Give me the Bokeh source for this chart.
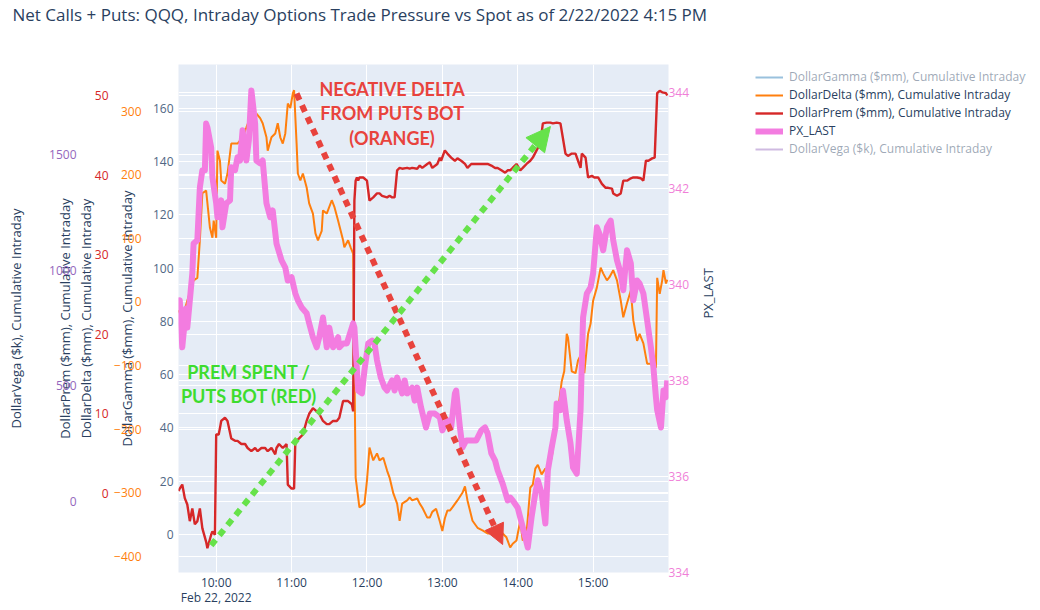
import math
import pandas as pd
from bokeh.plotting import figure
from bokeh.layouts import row, column
from bokeh.models import (Range1d, LinearAxis, Grid, SingleIntervalTicker, FixedTicker,
                          DatetimeTickFormatter, Legend, LegendItem, Arrow, NormalHead,
                          CustomJSTickFormatter, ColumnDataSource)
from bokeh.core.properties import value
from bokeh.embed import file_html
from bokeh.resources import INLINE

# ---------------- data ----------------
title_text = "Net Calls + Puts: QQQ, Intraday Options Trade Pressure vs Spot as of 2/22/2022 4:15 PM"
session_start = "2022-02-22 09:30"
hour_ticks = ["10:00", "11:00", "12:00", "13:00", "14:00", "15:00"]

series_names = ["DollarGamma ($mm), Cumulative Intraday",
                "DollarDelta ($mm), Cumulative Intraday",
                "DollarPrem ($mm), Cumulative Intraday",
                "PX_LAST",
                "DollarVega ($k), Cumulative Intraday"]

# minutes after 09:30
px_minutes = [0, 1, 3, 6, 7, 11, 12, 15, 17, 19, 21, 22, 23, 26, 27, 30, 31, 34, 35, 38, 41, 42, 45, 47, 49,
              51, 54, 56, 58, 61, 62, 65, 67, 70, 73, 75, 78, 82, 85, 87, 90, 93, 95, 98, 102, 104, 107, 110,
              112, 115, 118, 120, 123, 127, 128, 131, 134, 139, 140, 143, 146, 148, 151, 154, 156, 158, 161,
              164, 166, 170, 172, 174, 178, 180, 182, 186, 188, 190, 193, 197, 200, 204, 208, 210, 214, 217,
              220, 221, 224, 226, 229, 233, 237, 241, 244, 246, 249, 252, 254, 258, 262, 264, 266, 270, 274,
              278, 281, 284, 286, 289, 292, 294, 297, 300, 301, 304, 306, 309, 312, 314, 317, 320, 322, 325,
              328, 330, 333, 335, 338, 341, 344, 346, 349, 352, 354, 357, 360, 362, 365, 367, 370, 373, 376,
              378, 380, 381, 384, 386, 388, 389]
px_last = [339.6, 339.67, 338.69, 339.5, 339.1, 340.23, 340.85, 340.92, 342.02, 342.38, 342.38, 343.35, 343.27,
           342.85, 342.23, 341.69, 341.40, 341.75, 341.19, 341.69, 341.75, 342.44, 342.38, 342.65, 342.58,
           343.21, 342.58, 343.0, 344.04, 343.35, 342.58, 342.52, 342.58, 341.69, 341.40, 341.54, 340.85,
           340.5, 340.35, 340.08, 340.15, 339.81, 339.67, 339.52, 339.40, 339.19, 338.90, 338.69, 338.90,
           339.31, 338.69, 339.10, 338.69, 338.90, 338.69, 338.77, 338.77, 339.19, 339.10, 337.79, 337.73,
           338.21, 338.77, 338.83, 338.77, 338.42, 338.06, 337.85, 337.79, 338.0, 337.79, 338.06, 337.73,
           338.0, 337.73, 337.85, 337.58, 337.85, 337.44, 337.02, 337.31, 337.31, 337.23, 336.96, 337.17,
           337.02, 337.73, 337.79, 337.02, 336.60, 336.75, 336.75, 336.75, 336.96, 337.02, 336.90, 336.48,
           336.33, 336.13, 335.85, 335.5, 335.56, 335.5, 335.35, 334.94, 334.52, 335.15, 335.65, 335.92,
           335.65, 335.02, 336.13, 336.60, 337.02, 337.52, 337.38, 337.79, 337.17, 336.69, 336.19, 336.06,
           337.38, 339.31, 339.81, 339.94, 340.23, 341.19, 341.06, 340.71, 341.19, 341.33, 340.92, 340.5,
           340.23, 339.88, 340.71, 340.44, 339.67, 340.08, 340.02, 339.81, 339.25, 338.69, 338.27, 337.65,
           337.38, 337.02, 337.79, 337.65, 338.0]

delta_minutes = [0, 3, 7, 12, 15, 17, 19, 22, 25, 27, 28, 30, 31, 33, 34, 37, 39, 42, 45, 47, 51, 54, 57, 59,
                 62, 65, 67, 70, 71, 74, 77, 79, 81, 83, 85, 87, 89, 91, 92, 94, 95, 97, 99, 102, 104, 107,
                 109, 111, 114, 115, 118, 122, 124, 127, 131, 132, 135, 137, 139, 141, 144, 148, 150, 152,
                 155, 158, 160, 163, 166, 168, 171, 174, 176, 178, 182, 184, 186, 190, 192, 194, 198, 200,
                 202, 205, 208, 210, 212, 214, 216, 218, 222, 226, 228, 230, 234, 238, 242, 246, 250, 256,
                 261, 264, 266, 269, 272, 274, 277, 280, 282, 284, 286, 289, 292, 294, 297, 300, 302, 305,
                 307, 309, 310, 313, 316, 318, 321, 323, 326, 328, 330, 333, 336, 338, 341, 343, 346, 349,
                 352, 354, 357, 360, 362, 365, 367, 370, 373, 376, 378, 380, 381, 383, 385, 386, 388, 389]
dollar_delta = [-13, -26, 2, 34, 38, 97, 171, 175, 117, 101, 128, 101, 238, 222, 191, 186, 202, 249, 249, 249,
                259, 274, 290, 281, 296, 289, 281, 259, 238, 259, 265, 281, 259, 249, 265, 312, 305, 328, 333,
                249, 202, 191, 202, 180, 155, 139, 108, 97, 112, 144, 139, 160, 150, 128, 97, 86, 97, 86, 76,
                -276, -323, -317, -281, -229, -249, -238, -249, -245, -265, -276, -301, -317, -344, -317,
                -312, -307, -312, -309, -317, -323, -339, -339, -330, -325, -345, -360, -340, -328, -328,
                -323, -312, -300, -290, -312, -344, -355, -359, -364, -364, -360, -370, -386, -380, -375,
                -344, -375, -364, -292, -287, -262, -256, -271, -262, -265, -245, -202, -172, -125, -109,
                -50, -56, -109, -112, -92, -80, -112, -50, -34, 2, 23, 54, 45, 34, 39, 50, 34, 2, -24, -2,
                18, -29, -61, -50, -65, -97, -97, -103, -103, 38, 13, 34, 50, 29, 35]

prem_minutes = [0, 1, 3, 5, 7, 9, 11, 13, 15, 17, 19, 22, 23, 26, 27, 29, 30, 32, 33, 34, 37, 39, 42, 45, 47,
                50, 53, 55, 58, 61, 63, 66, 69, 71, 74, 77, 78, 80, 83, 86, 87, 90, 92, 93, 94, 96, 99, 102,
                104, 107, 110, 112, 115, 118, 120, 123, 126, 128, 131, 135, 138, 139, 140, 141, 142, 143, 144,
                147, 150, 152, 155, 158, 160, 162, 166, 168, 170, 172, 174, 176, 178, 182, 184, 186, 190, 192,
                194, 198, 200, 202, 206, 208, 209, 212, 214, 217, 220, 222, 225, 228, 230, 233, 236, 238, 241,
                244, 246, 249, 252, 254, 257, 260, 262, 264, 266, 269, 272, 274, 277, 280, 282, 285, 288, 290,
                293, 296, 298, 301, 304, 306, 308, 310, 313, 316, 318, 320, 321, 324, 326, 329, 331, 334, 337,
                340, 342, 345, 346, 349, 352, 354, 357, 360, 362, 365, 368, 370, 372, 374, 377, 379, 381, 383,
                385, 388, 389]
dollar_prem = [0.3, 0.6, 1.1, -0.6, -1.4, -3.5, -1.9, -3.9, -3.5, -1.9, -4.4, -6.1, -6.9, -5.2, -4.8, -5.2,
               7.4, 7.4, 8.2, 9.1, 9.5, 9.1, 6.9, 6.6, 6.6, 6.2, 6.2, 5.7, 5.3, 5.7, 5.3, 5.7, 5.7, 5.3, 5.7,
               4.9, 5.7, 6.2, 5.7, 6.2, 1.1, 0.6, 0.6, 6.6, 6.6, 6.9, 7.4, 9.1, 10.0, 10.7, 10.3, 10.0, 9.1,
               8.7, 8.7, 9.1, 9.1, 9.5, 11.6, 11.6, 11.2, 10.3, 36.8, 39.3, 39.7, 39.3, 39.7, 39.7, 39.3,
               36.8, 37.2, 37.7, 37.7, 37.4, 37.2, 37.4, 37.2, 37.2, 40.6, 40.9, 40.8, 40.9, 40.8, 40.9, 40.8,
               41.2, 40.9, 41.4, 41.6, 40.9, 41.4, 42.2, 41.8, 43.1, 42.7, 42.2, 41.8, 42.1, 41.8, 41.4, 40.9,
               41.4, 41.4, 41.4, 41.4, 41.4, 41.4, 41.2, 40.9, 40.9, 40.6, 40.3, 40.6, 40.6, 40.9, 41.4, 40.6,
               40.9, 41.4, 41.8, 42.2, 43.1, 44.0, 46.5, 46.6, 46.6, 46.5, 46.6, 46.5, 44.6, 42.7, 42.4, 42.7,
               42.7, 41.8, 40.9, 42.7, 42.2, 39.7, 39.9, 39.7, 39.7, 38.9, 38.4, 38.4, 38.3, 37.7, 37.4, 37.7,
               39.3, 39.3, 39.6, 39.7, 39.7, 39.6, 39.3, 41.8, 41.8, 42.1, 42.2, 50.3, 50.6, 50.4, 50.3, 50.0]

# hidden (legend-only) series
gamma_minutes = [0, 60, 120, 180, 240, 300, 389]
dollar_gamma = [2, 20, 35, 60, 55, 80, 95]
vega_minutes = [0, 60, 120, 180, 240, 300, 389]
dollar_vega = [50, 400, 600, 900, 1100, 1300, 1500]

# annotation texts
note_delta = "NEGATIVE DELTA\nFROM PUTS BOT\n(ORANGE)"
note_prem = "PREM SPENT /\nPUTS BOT (RED)"

# ---------------- helpers ----------------
base = pd.Timestamp(session_start)


def ms(minute):
    return (base + pd.Timedelta(minutes=minute)).timestamp() * 1000.0


def ms_clock(hhmm):
    return pd.Timestamp("2022-02-22 " + hhmm).timestamp() * 1000.0


TXT = "#2a3f5f"
FONT = "Open Sans"
C_GAMMA, C_DELTA, C_PREM, C_PX, C_VEGA = "#1f77b4", "#ff7f0e", "#d62728", "#f37ce0", "#9467bd"

TOTAL_W, MAIN_W, HEAD_H, TOTAL_H = 1036, 745, 34, 609
LEG_W = TOTAL_W - MAIN_W
BODY_H = TOTAL_H - HEAD_H
FRAME_L, FRAME_R, FRAME_T, FRAME_B = 178, 668, 64, 572
TOP_BORDER = FRAME_T - HEAD_H

# ---------------- title strip ----------------
head = figure(width=TOTAL_W, height=HEAD_H, output_backend="svg", toolbar_location=None,
              x_range=Range1d(0, 1), y_range=Range1d(0, 1),
              x_axis_location=None, y_axis_location=None,
              min_border_left=12, min_border_right=0, min_border_top=0, min_border_bottom=0)
head.grid.visible = False
head.outline_line_color = None
head.background_fill_color = "white"
head.border_fill_color = "white"
head.title.text = title_text
head.title.align = "left"
head.title.vertical_align = "top"
head.title.offset = 0
head.title.standoff = 4
head.title.text_font = FONT
head.title.text_font_size = "17px"
head.title.text_font_style = "normal"
head.title.text_color = TXT

# ---------------- main chart ----------------
p = figure(width=MAIN_W, height=BODY_H, x_axis_type="datetime",
           x_range=Range1d(ms_clock("09:30"), ms_clock("16:00")),
           y_range=Range1d(-14.3, 176.5),
           output_backend="svg", toolbar_location=None,
           min_border_left=FRAME_L, min_border_right=MAIN_W - FRAME_R,
           min_border_top=TOP_BORDER, min_border_bottom=TOTAL_H - FRAME_B)
p.extra_y_ranges = {"delta": Range1d(-425.3, 373.4), "prem": Range1d(-9.95, 53.9),
                    "vega": Range1d(-307, 1889), "px": Range1d(334, 344.58)}
# the chart's own (empty) title must not take vertical room
p.title.standoff = 0
p.title.text_font_size = "1px"

p.background_fill_color = "#e5ecf6"
p.border_fill_color = "white"
p.outline_line_color = None

minus_fmt = "return (tick < 0 ? '\\u2212' + Math.abs(tick) : '' + tick);"


def style_axis(ax, color, label, lab_standoff, title_standoff):
    ax.axis_label = label
    ax.axis_line_color = None
    ax.major_tick_line_color = None
    ax.minor_tick_line_color = None
    ax.major_tick_out = 0
    ax.major_tick_in = 0
    ax.minor_tick_out = 0
    ax.minor_tick_in = 0
    ax.major_label_standoff = lab_standoff
    ax.axis_label_standoff = title_standoff
    ax.major_label_text_font = FONT
    ax.major_label_text_font_size = "12px"
    ax.major_label_text_color = color
    ax.axis_label_text_font = FONT
    ax.axis_label_text_font_size = "13px"
    ax.axis_label_text_font_style = "normal"
    ax.axis_label_text_color = TXT
    ax.formatter = CustomJSTickFormatter(code=minus_fmt)


# primary (gamma) axis, nearest to the frame
gy = p.yaxis[0]
gy.ticker = SingleIntervalTicker(interval=20)
style_axis(gy, "#506784", series_names[0], 5, 14)
p.ygrid.ticker = gy.ticker
p.ygrid.grid_line_color = "white"
p.ygrid.grid_line_width = 1

axes_spec = [("delta", 100, C_DELTA, series_names[1], "left", -27, 16),
             ("prem", 10, C_PREM, series_names[2], "left", -34, 18),
             ("vega", 500, C_VEGA, series_names[4], "left", -24, 21),
             ("px", 2, "#f07fd8", series_names[3], "right", 0, 16)]
px_axis = None
for rname, step, col, lab, side, ls, ts in axes_spec:
    ax = LinearAxis(y_range_name=rname, ticker=SingleIntervalTicker(interval=step))
    style_axis(ax, col, lab, ls, ts)
    p.add_layout(ax, side)
    if side == "right":
        px_axis = ax
    g = Grid(dimension=1, ticker=ax.ticker, y_range_name=rname,
             grid_line_color="white", grid_line_width=1)
    p.add_layout(g)

try:
    px_axis.axis_label_orientation = math.pi / 2
except Exception:
    pass

# x axis
xa = p.xaxis[0]
xa.ticker = FixedTicker(ticks=[ms_clock(h) for h in hour_ticks])
xa.formatter = DatetimeTickFormatter(hours="%H:%M", context=DatetimeTickFormatter(hours="%b %d, %Y"),
                                     context_which="start", context_location="below")
xa.axis_line_color = None
xa.major_tick_line_color = None
xa.minor_tick_line_color = None
xa.major_tick_out = 0
xa.major_tick_in = 0
xa.minor_tick_out = 0
xa.minor_tick_in = 0
xa.major_label_standoff = 1
xa.major_label_text_font = FONT
xa.major_label_text_font_size = "12px"
xa.major_label_text_color = TXT
try:
    xa.major_label_text_line_height = 0.9
except Exception:
    pass
p.xgrid.ticker = xa.ticker
p.xgrid.grid_line_color = "white"
p.xgrid.grid_line_width = 1

# series
src_g = ColumnDataSource(dict(t=[ms(m) for m in gamma_minutes], v=dollar_gamma))
src_d = ColumnDataSource(dict(t=[ms(m) for m in delta_minutes], v=dollar_delta))
src_p = ColumnDataSource(dict(t=[ms(m) for m in prem_minutes], v=dollar_prem))
src_x = ColumnDataSource(dict(t=[ms(m) for m in px_minutes], v=px_last))
src_v = ColumnDataSource(dict(t=[ms(m) for m in vega_minutes], v=dollar_vega))

line_styles = [dict(line_color=C_GAMMA, line_width=2),
               dict(line_color=C_DELTA, line_width=2),
               dict(line_color=C_PREM, line_width=2.4),
               dict(line_color=C_PX, line_width=6),
               dict(line_color=C_VEGA, line_width=2)]

r_gamma = p.line("t", "v", source=src_g, **line_styles[0])
r_gamma.visible = False
r_delta = p.line("t", "v", source=src_d, y_range_name="delta", **line_styles[1])
r_prem = p.line("t", "v", source=src_p, y_range_name="prem", **line_styles[2])
r_px = p.line("t", "v", source=src_x, y_range_name="px", line_join="round", **line_styles[3])
r_vega = p.line("t", "v", source=src_v, y_range_name="vega", **line_styles[4])
r_vega.visible = False

# annotations (positions in time / gamma-axis units)
red_arrow = Arrow(x_start=ms_clock("11:04"), y_start=165.6, x_end=ms_clock("13:48"), y_end=-3.8,
                  line_color="#e8433d", line_width=6, line_dash="7 6",
                  end=NormalHead(size=20, fill_color="#e8433d", line_color="#e8433d"))
green_arrow = Arrow(x_start=ms_clock("09:56"), y_start=-4.1, x_end=ms_clock("14:26"), y_end=153.2,
                    line_color="#66e24a", line_width=6, line_dash="7 6",
                    end=NormalHead(size=24, fill_color="#66e24a", line_color="#66e24a"))
p.add_layout(red_arrow)
p.add_layout(green_arrow)

p.text(x=[ms_clock("12:20")], y=[158.1], text=[note_delta], text_font=value("Lato"),
       text_font_style="bold", text_font_size="18px", text_color="#e8433d",
       text_align="center", text_baseline="middle", text_line_height=1.1)
p.text(x=[ms_clock("10:26")], y=[56.5], text=[note_prem], text_font=value("Lato"),
       text_font_style="bold", text_font_size="18px", text_color="#3ddc2f",
       text_align="center", text_baseline="middle", text_line_height=1.1)

# ---------------- legend panel ----------------
# same top border as the chart, so the row keeps the chart frame where it belongs
lf = figure(width=LEG_W, height=BODY_H, output_backend="svg", toolbar_location=None,
            x_range=Range1d(0, 1), y_range=Range1d(0, 1),
            x_axis_location=None, y_axis_location=None,
            min_border_left=6, min_border_right=0, min_border_top=TOP_BORDER, min_border_bottom=0)
lf.grid.visible = False
lf.outline_line_color = None
lf.background_fill_color = "white"
lf.border_fill_color = "white"
leg_renderers = []
for i, st in enumerate(line_styles):
    # proxy lines placed outside the (0..1) view, used only for the legend swatches
    r = lf.line(x=[-2, -1], y=[-2, -2], **st)
    if i in (0, 4):
        r.visible = False
    leg_renderers.append(r)

legend = Legend(items=[LegendItem(label=series_names[i], renderers=[leg_renderers[i]]) for i in range(5)],
                location="top_left", click_policy="hide", margin=4, padding=2,
                glyph_width=28, glyph_height=16, label_height=16, spacing=1, label_standoff=6,
                label_text_font=FONT, label_text_font_size="12px", label_text_color=TXT,
                background_fill_alpha=0, border_line_color=None,
                inactive_fill_color="white", inactive_fill_alpha=0.55)
lf.add_layout(legend)

layout = column(head, row(p, lf))

with open("out.html", "w", encoding="utf-8") as f:
    f.write(file_html(layout, INLINE))
